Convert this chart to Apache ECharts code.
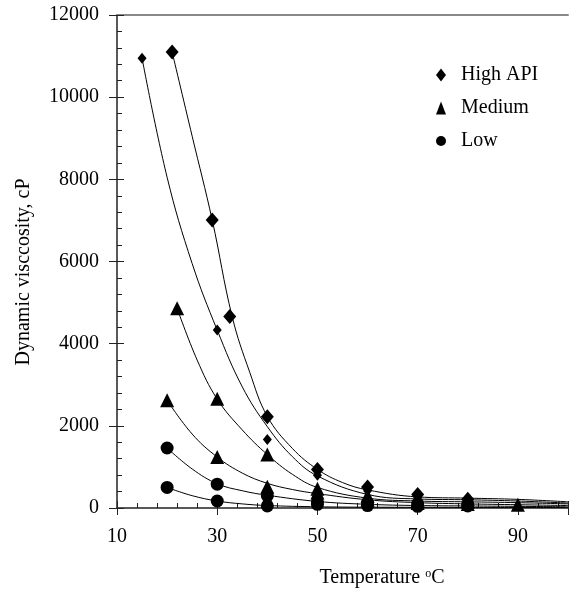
<!DOCTYPE html>
<html>
<head>
<meta charset="utf-8">
<script src="https://cdn.jsdelivr.net/npm/echarts@6/dist/echarts.min.js"></script>
<style>
html,body{margin:0;padding:0;background:#fff;}
#chart{width:571px;height:598px;}
</style>
</head>
<body>
<div id="chart"></div>
<script>
// Axis ticks
const xTicks = [10, 30, 50, 70, 90];
const yTicks = [0, 2000, 4000, 6000, 8000, 10000, 12000];

// Measured points [temperature, viscosity]
const highA = [[15,10950],[30,4330],[40,1670],[50,800],[60,420],[70,250],[80,150]];
const highB = [[21,11100],[29,7010],[32.5,4660],[40,2220],[50,940],[60,510],[70,330],[80,210]];
const medA  = [[22,4860],[30,2660],[40,1300],[50,470],[60,300],[70,180],[80,160]];
const medB  = [[20,2620],[30,1240],[40,520],[50,380],[60,200],[70,120],[80,100],[90,80]];
const lowA  = [[20,1460],[30,580],[40,300],[50,150],[60,120],[70,100],[80,90]];
const lowB  = [[20,500],[30,170],[40,50],[50,90],[60,60],[70,40],[80,50]];

// Fitted curves
const fitHighA = [[15,10950],[20,8050],[25,5950],[30,4330],[35,2950],[40,1980],[45,1250],[50,780],[60,330],[70,220],[80,200],[90,170],[100,120]];
const fitHighB = [[21,11100],[25,9050],[29,7010],[33,4650],[36.5,3300],[40,2230],[45,1450],[50,940],[55,620],[60,440],[70,270],[80,240],[90,210],[100,150]];
const fitMedA  = [[22,4860],[26,3600],[30,2650],[35,1900],[40,1300],[45,820],[50,500],[60,240],[70,170],[80,150],[90,130],[100,100]];
const fitMedB  = [[20,2620],[25,1800],[30,1240],[35,850],[40,600],[45,450],[50,350],[60,200],[70,130],[80,100],[90,80],[100,60]];
const fitLowA  = [[20,1460],[25,950],[30,590],[35,420],[40,310],[50,160],[60,90],[70,60],[80,50],[100,30]];
const fitLowB  = [[20,500],[25,300],[30,170],[35,100],[40,60],[50,30],[60,20],[80,15],[100,10]];

const FONT = '"Liberation Serif", "Times New Roman", serif';
const FS = 20;
const chart = echarts.init(document.getElementById('chart'));

function scatter(name, data, symbol, size) {
  return {type:'scatter', name, data, symbol, symbolSize:size, xAxisIndex:0, yAxisIndex:0,
    itemStyle:{color:'#000', opacity:1}, z:5};
}
function fit(data) {
  return {type:'line', data, smooth:0.4, showSymbol:false, symbol:'none', xAxisIndex:0, yAxisIndex:0,
    lineStyle:{color:'#000', width:1}, silent:true, z:3};
}

const xBase = {type:'value', min:10, max:100, interval:20};
const yBase = {type:'value', min:0, max:12000, interval:2000};

chart.setOption({
  animation:false,
  backgroundColor:'#fff',
  grid:{left:117, top:15, right:-5, bottom:90, containLabel:false},
  legend:{
    orient:'vertical', left:431, top:60, itemGap:13, itemWidth:10, itemHeight:13,
    textStyle:{fontFamily:FONT, fontSize:FS, color:'#000', padding:[0,0,0,10]},
    data:[{name:'High API', icon:'diamond'},{name:'Medium', icon:'triangle'},{name:'Low', icon:'circle'}]
  },
  xAxis:[
    Object.assign({}, xBase, {position:'bottom',
      axisLine:{show:true, lineStyle:{color:'#222', width:1.5}},
      axisTick:{show:true, inside:false, length:7, lineStyle:{color:'#222'}},
      axisLabel:{fontFamily:FONT, fontSize:FS, color:'#000', margin:19,
        formatter: v => xTicks.indexOf(v) >= 0 ? String(v) : ''},
      splitLine:{show:false}}),
    Object.assign({}, xBase, {position:'bottom',
      axisLine:{show:false},
      axisTick:{show:true, inside:true, length:7, lineStyle:{color:'#222'}},
      minorTick:{show:true, splitNumber:5, length:5, lineStyle:{color:'#222'}},
      axisLabel:{show:false}, splitLine:{show:false}}),
    Object.assign({}, xBase, {position:'top',
      axisLine:{show:true, lineStyle:{color:'#888', width:2}},
      axisTick:{show:false}, axisLabel:{show:false}, splitLine:{show:false}})
  ],
  yAxis:[
    Object.assign({}, yBase, {position:'left',
      axisLine:{show:true, lineStyle:{color:'#222', width:1.5}},
      axisTick:{show:true, inside:false, length:8, lineStyle:{color:'#222'}},
      axisLabel:{fontFamily:FONT, fontSize:FS, color:'#000', margin:18,
        formatter: v => yTicks.indexOf(v) >= 0 ? String(v) : ''},
      splitLine:{show:false}}),
    Object.assign({}, yBase, {position:'left',
      axisLine:{show:false},
      axisTick:{show:true, inside:true, length:7, lineStyle:{color:'#222'}},
      minorTick:{show:true, splitNumber:5, length:5, lineStyle:{color:'#222'}},
      axisLabel:{show:false}, splitLine:{show:false}})
  ],
  graphic:[
    {type:'text', x:24, y:272, rotation:Math.PI/2,
      style:{text:'Dynamic visccosity, cP', fontFamily:FONT, fontSize:FS, fill:'#000',
        align:'center', verticalAlign:'middle'}},
    {type:'text', x:382, y:578,
      style:{text:'Temperature {s|o}C', fontFamily:FONT, fontSize:FS, fill:'#000',
        align:'center', verticalAlign:'middle',
        rich:{s:{fontFamily:FONT, fontSize:12, verticalAlign:'top', padding:[0,0,9,0]}}}}
  ],
  series:[
    fit(fitHighA), fit(fitHighB), fit(fitMedA), fit(fitMedB), fit(fitLowA), fit(fitLowB),
    scatter('High API', highA, 'diamond', [9,11]),
    scatter('High API', highB, 'diamond', [13,15]),
    scatter('Medium', medA, 'triangle', [14,14]),
    scatter('Medium', medB, 'triangle', [14,14]),
    scatter('Low', lowA, 'circle', 13),
    scatter('Low', lowB, 'circle', 13)
  ]
});
</script>
</body>
</html>
